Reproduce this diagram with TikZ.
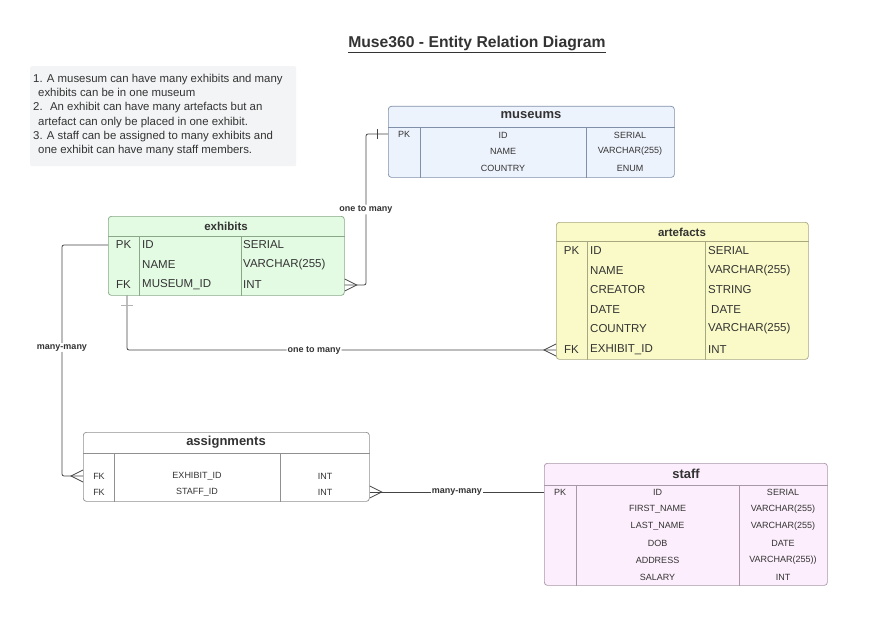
\documentclass[tikz,border=0pt]{standalone}
\usepackage{fontspec}
\setmainfont{Liberation Sans}
\usetikzlibrary{calc,positioning}
\definecolor{txt}{HTML}{333333}
\definecolor{linkc}{HTML}{444444}
\definecolor{noteF}{HTML}{F3F4F6}
\definecolor{muF}{HTML}{EDF3FD}
\definecolor{muB}{HTML}{8090A8}
\definecolor{exF}{HTML}{E3FAE3}
\definecolor{exB}{HTML}{88A888}
\definecolor{arF}{HTML}{FAFAC8}
\definecolor{arB}{HTML}{A8A880}
\definecolor{stF}{HTML}{FCEEFC}
\definecolor{stB}{HTML}{A898A8}
\definecolor{asB}{HTML}{909090}
\newcommand{\footlen}{12}
\newcommand{\footw}{6}
\tikzset{
  tbl/.style={draw=#1, rounded corners=3pt, line width=0.7pt, inner sep=0pt, anchor=north west},
  grid/.style={draw=#1, line width=0.6pt},
  hdr/.style={font=\bfseries\fontsize{13}{13}\selectfont, text=txt, inner sep=0pt},
  hdrs/.style={font=\bfseries\fontsize{11.5}{11.5}\selectfont, text=txt, inner sep=0pt},
  small/.style={font=\fontsize{9}{9}\selectfont, text=txt, inner sep=0pt},
  big/.style={font=\fontsize{11.5}{11.5}\selectfont, text=txt, inner sep=0pt},
  link/.style={draw=linkc, line width=0.8pt},
  lbl/.style={font=\bfseries\fontsize{9}{9}\selectfont, fill=white, inner sep=1pt, text=txt},
}

\begin{document}
\begin{tikzpicture}[x=1pt, y=-1pt]
\useasboundingbox[fill=white] (0,0) rectangle (871,618);
% title and notes
\node[font=\bfseries\fontsize{15.7}{15.7}\selectfont, text=txt] (title) at (477,44) {\underline{Muse360 - Entity Relation Diagram}};
\node[fill=noteF, minimum width=266pt, minimum height=100pt, inner sep=0pt, anchor=north west, rounded corners=2pt] (note) at (30,66) {};
\node[font=\fontsize{11.4}{14.2}\selectfont, text=txt, align=left, inner sep=0pt, anchor=north west] (notetext) at (33,74)
  {1. A musesum can have many exhibits and many\\
   \hspace*{5pt}exhibits can be in one museum\\
   2. \ An exhibit can have many artefacts but an\\
   \hspace*{5pt}artefact can only be placed in one exhibit.\\
   3. A staff can be assigned to many exhibits and\\
   \hspace*{5pt}one exhibit can have many staff members.};
%museums
\node[tbl=muB, fill=muF, minimum width=286pt, minimum height=71pt] (museums) at (388,106) {};
\draw[grid=muB] ($(museums.north west)+(0,21)$) -- ($(museums.north east)+(0,21)$);
\draw[grid=muB] ($(museums.north west)+(32,21)$) -- ($(museums.south west)+(32,0)$);
\draw[grid=muB] ($(museums.north west)+(198,21)$) -- ($(museums.south west)+(198,0)$);
\node[hdr] (mu-title) at (531,115) {museums};
\node[small] (mu-pk) at (404,134) {PK};
\node[small] (mu-id) at (503,135) {ID};
\node[small] (mu-name) at (503,151) {NAME};
\node[small] (mu-country) at (503,168) {COUNTRY};
\node[small] (mu-t1) at (630,135) {SERIAL};
\node[small] (mu-t2) at (630,151) {VARCHAR(255)};
\node[small] (mu-t3) at (630,168) {ENUM};
%exhibits
\node[tbl=exB, fill=exF, minimum width=236pt, minimum height=79pt] (exhibits) at (108,216) {};
\draw[grid=exB] ($(exhibits.north west)+(0,20)$) -- ($(exhibits.north east)+(0,20)$);
\draw[grid=exB] ($(exhibits.north west)+(31,20)$) -- ($(exhibits.south west)+(31,0)$);
\draw[grid=exB] ($(exhibits.north west)+(133,20)$) -- ($(exhibits.south west)+(133,0)$);
\node[hdrs] (ex-title) at (226,226) {exhibits};
\node[big] (ex-pk) at (123.5,245) {PK};
\node[big] (ex-fk) at (123.5,285) {FK};
\node[big, anchor=west] (ex-id) at (142,245) {ID};
\node[big, anchor=west] (ex-name) at (142,265) {NAME};
\node[big, anchor=west] (ex-museum) at (142,285) {MUSEUM\_ID};
\node[big, anchor=west] (ex-t1) at (243,245) {SERIAL};
\node[big, anchor=west] (ex-t2) at (243,265) {VARCHAR(255)};
\node[big, anchor=west] (ex-t3) at (243,285) {INT};
%artefacts
\node[tbl=arB, fill=arF, minimum width=252pt, minimum height=137pt] (artefacts) at (556,222) {};
\draw[grid=arB] ($(artefacts.north west)+(0,19)$) -- ($(artefacts.north east)+(0,19)$);
\draw[grid=arB] ($(artefacts.north west)+(31,19)$) -- ($(artefacts.south west)+(31,0)$);
\draw[grid=arB] ($(artefacts.north west)+(149,19)$) -- ($(artefacts.south west)+(149,0)$);
\node[hdrs] (ar-title) at (682,232) {artefacts};
\node[big] (ar-pk) at (571.5,251) {PK};
\node[big] (ar-fk) at (571.5,350) {FK};
\node[big, anchor=west] (ar-id) at (590,251) {ID};
\node[big, anchor=west] (ar-name) at (590,271) {NAME};
\node[big, anchor=west] (ar-creator) at (590,290) {CREATOR};
\node[big, anchor=west] (ar-date) at (590,310) {DATE};
\node[big, anchor=west] (ar-country) at (590,329) {COUNTRY};
\node[big, anchor=west] (ar-exhibit) at (590,350) {EXHIBIT\_ID};
\node[big, anchor=west] (ar-t1) at (708,251) {SERIAL};
\node[big, anchor=west] (ar-t2) at (708,271) {VARCHAR(255)};
\node[big, anchor=west] (ar-t3) at (708,290) {STRING};
\node[big, anchor=west] (ar-t4) at (711,310) {DATE};
\node[big, anchor=west] (ar-t5) at (708,329) {VARCHAR(255)};
\node[big, anchor=west] (ar-t6) at (708,350) {INT};
%assignments
\node[tbl=asB, fill=white, minimum width=286pt, minimum height=69pt] (assignments) at (83,432) {};
\draw[grid=asB] ($(assignments.north west)+(0,21)$) -- ($(assignments.north east)+(0,21)$);
\draw[grid=asB] ($(assignments.north west)+(31,21)$) -- ($(assignments.south west)+(31,0)$);
\draw[grid=asB] ($(assignments.north west)+(197,21)$) -- ($(assignments.south west)+(197,0)$);
\node[hdr] (as-title) at (226,442) {assignments};
\node[small] (as-fk1) at (99,476) {FK};
\node[small] (as-fk2) at (99,492) {FK};
\node[small] (as-exhibit) at (197,476) {EXHIBIT\_ID};
\node[small] (as-staff) at (197,492) {STAFF\_ID};
\node[small] (as-t1) at (325,476) {INT};
\node[small] (as-t2) at (325,492) {INT};
%staff
\node[tbl=stB, fill=stF, minimum width=283pt, minimum height=122pt] (staff) at (544,463) {};
\draw[grid=stB] ($(staff.north west)+(0,22)$) -- ($(staff.north east)+(0,22)$);
\draw[grid=stB] ($(staff.north west)+(32,22)$) -- ($(staff.south west)+(32,0)$);
\draw[grid=stB] ($(staff.north west)+(195,22)$) -- ($(staff.south west)+(195,0)$);
\node[hdr] (st-title) at (686,474) {staff};
\node[small] (st-pk) at (560,492) {PK};
\node[small] (st-id) at (657.5,492) {ID};
\node[small] (st-first) at (657.5,509) {FIRST\_NAME};
\node[small] (st-last) at (657.5,526) {LAST\_NAME};
\node[small] (st-dob) at (657.5,543) {DOB};
\node[small] (st-address) at (657.5,560) {ADDRESS};
\node[small] (st-salary) at (657.5,577) {SALARY};
\node[small] (st-t1) at (783,492) {SERIAL};
\node[small] (st-t2) at (783,509) {VARCHAR(255)};
\node[small] (st-t3) at (783,526) {VARCHAR(255)};
\node[small] (st-t4) at (783,543) {DATE};
\node[small] (st-t5) at (783,560) {VARCHAR(255))};
\node[small] (st-t6) at (783,577) {INT};
%museums - exhibits
\draw[link, rounded corners=2pt] (museums.west |- mu-pk) -- ++(-22,0) |- node[lbl, pos=0.25] {one to many} (exhibits.east |- ex-fk);
\draw[link] ($(museums.west |- mu-pk)+(-11,-5)$) -- ++(0,10);
\draw[link] ($(exhibits.east |- ex-fk)+(0,-\footw)$) -- ($(exhibits.east |- ex-fk)+(\footlen,0)$) -- ($(exhibits.east |- ex-fk)+(0,\footw)$);
%exhibits - artefacts
\coordinate (ex-foot) at ($(exhibits.south west)+(19,0)$);
\draw[link, rounded corners=2pt] (ex-foot) |- node[lbl, pos=0.718] {one to many} (artefacts.west |- ar-fk);
\draw[link, draw=gray!60] ($(ex-foot)+(-6,10)$) -- ++(12,0);
\draw[link] ($(artefacts.west |- ar-fk)+(0,-\footw)$) -- ($(artefacts.west |- ar-fk)+(-\footlen,0)$) -- ($(artefacts.west |- ar-fk)+(0,\footw)$);
%exhibits - assignments
\draw[link, rounded corners=2pt] (exhibits.west |- ex-pk) -- ++(-46,0) |- node[lbl, pos=0.222] {many-many} (assignments.west |- as-fk1);
\draw[link] ($(assignments.west |- as-fk1)+(0,-\footw)$) -- ($(assignments.west |- as-fk1)+(-\footlen,0)$) -- ($(assignments.west |- as-fk1)+(0,\footw)$);
%assignments - staff
\draw[link] (assignments.east |- as-fk2) -- node[lbl] {many-many} (staff.west |- as-fk2);
\draw[link] ($(assignments.east |- as-fk2)+(0,-\footw)$) -- ($(assignments.east |- as-fk2)+(\footlen,0)$) -- ($(assignments.east |- as-fk2)+(0,\footw)$);
\end{tikzpicture}
\end{document}
